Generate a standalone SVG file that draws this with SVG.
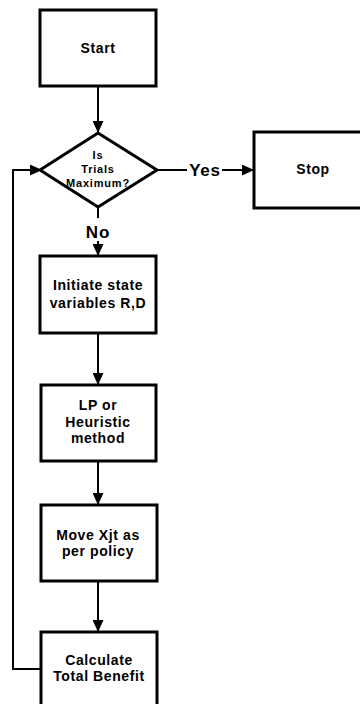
<svg xmlns="http://www.w3.org/2000/svg" width="360" height="704" viewBox="0 0 360 704">
<style>
.box{fill:#fff;stroke:#000;stroke-width:3}
.ln{fill:none;stroke:#000;stroke-width:2}
.t{font-family:"Liberation Sans",Arial,sans-serif;font-weight:bold;font-size:14px;letter-spacing:0.6px;text-anchor:middle;fill:#000}
.s{font-size:11px;letter-spacing:0.8px}
.b{font-size:17px;letter-spacing:0.8px}
</style>
<defs>
<marker id="ah" markerWidth="12" markerHeight="11" refX="11" refY="5.5" orient="auto" markerUnits="userSpaceOnUse">
<path d="M0,0 L12,5.5 L0,11 Z" fill="#000"/>
</marker>
</defs>
<rect width="360" height="704" fill="#fff"/>
<g id="connectors">
<line class="ln" x1="98" y1="87" x2="98" y2="132" marker-end="url(#ah)"/>
<line class="ln" x1="157" y1="170" x2="187" y2="170"/>
<line class="ln" x1="222" y1="170" x2="253" y2="170" marker-end="url(#ah)"/>
<line class="ln" x1="98" y1="207" x2="98" y2="218"/>
<line class="ln" x1="98" y1="241" x2="98" y2="255" marker-end="url(#ah)"/>
<line class="ln" x1="98" y1="334" x2="98" y2="384" marker-end="url(#ah)"/>
<line class="ln" x1="98" y1="462" x2="98" y2="504" marker-end="url(#ah)"/>
<line class="ln" x1="98" y1="582" x2="98" y2="631" marker-end="url(#ah)"/>
<polyline class="ln" points="41,669 13,669 13,170 41,170" marker-end="url(#ah)"/>
<text class="t b" x="205" y="176">Yes</text>
<text class="t b" x="98" y="238">No</text>
</g>
<g id="start">
<rect class="box" x="40" y="10" width="116" height="76"/>
<text class="t" x="98" y="53">Start</text>
</g>
<g id="decision">
<polygon class="box" points="98,133 157,170 98,207 40,170"/>
<text class="t s" x="98" y="159">Is</text>
<text class="t s" x="98" y="173">Trials</text>
<text class="t s" x="98" y="187">Maximum?</text>
</g>
<g id="stop">
<rect class="box" x="254" y="132" width="112" height="76"/>
<text class="t" x="313" y="174">Stop</text>
</g>
<g id="initiate">
<rect class="box" x="40" y="256" width="116" height="77"/>
<text class="t" x="98" y="290">Initiate state</text>
<text class="t" x="98" y="308">variables R,D</text>
</g>
<g id="lp">
<rect class="box" x="41" y="385" width="115" height="76"/>
<text class="t" x="98" y="410">LP or</text>
<text class="t" x="98" y="427">Heuristic</text>
<text class="t" x="98" y="443">method</text>
</g>
<g id="move">
<rect class="box" x="41" y="505" width="116" height="76"/>
<text class="t" x="98" y="540">Move Xjt as</text>
<text class="t" x="98" y="556">per policy</text>
</g>
<g id="calculate">
<rect class="box" x="41" y="632" width="116" height="80"/>
<text class="t" x="99" y="665">Calculate</text>
<text class="t" x="99" y="681">Total Benefit</text>
</g>
</svg>
